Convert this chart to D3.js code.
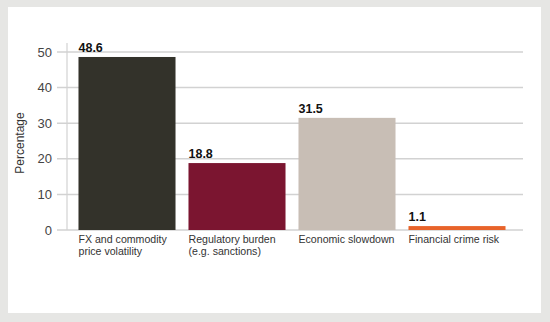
<!DOCTYPE html>
<html><head><meta charset="utf-8">
<script src="https://cdn.jsdelivr.net/npm/d3@7"></script>
<style>body{margin:0;background:#e6e6e4;}svg{display:block;font-family:Arial,"Liberation Sans",sans-serif;}</style>
</head><body><svg id="c" width="550" height="322"></svg>
<script>
const categories = [["FX and commodity","price volatility"],["Regulatory burden","(e.g. sanctions)"],["Economic slowdown"],["Financial crime risk"]];
const values = [48.6, 18.8, 31.5, 1.1];
const colors = ["#33322a", "#7b1530", "#c8beb5", "#e8632a"];
const yTicks = [0, 10, 20, 30, 40, 50];
const yTitle = "Percentage";

const svg = d3.select("#c");
svg.append("rect").attr("x",0).attr("y",0).attr("width",550).attr("height",322).attr("fill","#e6e6e4");
svg.append("rect").attr("x",8).attr("y",7).attr("width",533).attr("height",306).attr("fill","#ffffff");

const axisX = 67, gridX0 = 57, gridX1 = 523;
const y = d3.scaleLinear().domain([0,50]).range([230,52]);
const x = d3.scaleBand().domain(d3.range(values.length)).range([72,512]).paddingInner(0.118).paddingOuter(0.059);

svg.append("g").selectAll("line").data(yTicks).join("line")
  .attr("x1",gridX0).attr("x2",gridX1).attr("y1",d=>y(d)).attr("y2",d=>y(d))
  .attr("stroke","#d2d2d2").attr("stroke-width",1.5);
svg.append("line").attr("x1",axisX).attr("x2",axisX).attr("y1",43).attr("y2",y(0))
  .attr("stroke","#d2d2d2").attr("stroke-width",1.2);
svg.append("g").selectAll("text").data(yTicks).join("text")
  .attr("x",52).attr("y",d=>y(d)).attr("dy","0.36em").attr("text-anchor","end")
  .attr("font-size",13).attr("fill","#444").text(d=>d);
svg.append("text").attr("transform","translate(24,143) rotate(-90)").attr("text-anchor","middle")
  .attr("font-size",12).attr("fill","#333").text(yTitle);

svg.append("g").selectAll("rect").data(values).join("rect")
  .attr("x",(d,i)=>x(i)).attr("width",x.bandwidth())
  .attr("y",d=>y(d)).attr("height",d=>y(0)-y(d)).attr("fill",(d,i)=>colors[i]);
svg.append("g").selectAll("text").data(values).join("text")
  .attr("x",(d,i)=>x(i)).attr("y",d=>y(d)-5)
  .attr("font-size",12.5).attr("font-weight","bold").attr("fill","#111").text(d=>d.toFixed(1));
const cg = svg.append("g").selectAll("text").data(categories).join("text")
  .attr("x",(d,i)=>x(i)).attr("y",243).attr("font-size",10.6).attr("fill","#333");
cg.selectAll("tspan").data(d=>d).join("tspan")
  .attr("x",function(){return d3.select(this.parentNode).attr("x");})
  .attr("dy",(d,j)=>j===0?0:"1.15em").text(d=>d);
</script></body></html>
